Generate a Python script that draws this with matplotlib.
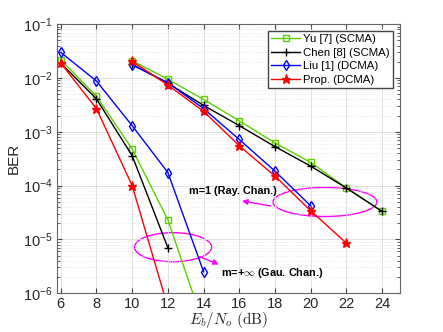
import numpy as np
import matplotlib
matplotlib.use('Agg')
import matplotlib.pyplot as plt
from matplotlib.patches import Ellipse

plt.rcParams['font.family'] = ['Liberation Sans', 'DejaVu Sans']
plt.rcParams['mathtext.fontset'] = 'cm'

# Gaussian channel curves (m=+inf)
snr_gau = [6, 8, 10, 12, 14]
yu_gau = [2.2e-2, 4.6e-3, 4.8e-4, 2.3e-5, 2.6e-7]
chen_gau = [1.9e-2, 4.1e-3, 3.6e-4, 7e-6]
liu_gau = [3.0e-2, 8.8e-3, 1.3e-3, 1.75e-4, 2.5e-6]
prop_gau = [1.9e-2, 2.7e-3, 1.0e-4, 5.5e-7]

# Rayleigh channel curves (m=1)
snr_ray = [10, 12, 14, 16, 18, 20, 22, 24]
yu_ray = [2.1e-2, 9.5e-3, 4.0e-3, 1.6e-3, 6.2e-4, 2.7e-4, 9e-5, 3.3e-5]
chen_ray = [1.8e-2, 8.0e-3, 3.1e-3, 1.3e-3, 5.3e-4, 2.3e-4, 9e-5, 3.3e-5]
liu_ray = [1.75e-2, 8.2e-3, 2.7e-3, 7.2e-4, 1.85e-4, 4.2e-5]
prop_ray = [2.05e-2, 7.4e-3, 2.4e-3, 5.5e-4, 1.5e-4, 3.4e-5, 8.5e-6]

labels = ['Yu [7] (SCMA)', 'Chen [8] (SCMA)', 'Liu [1] (DCMA)', 'Prop. (DCMA)']
colors = ['#5fcf00', 'black', '#0000ff', '#ff0000']
markers = ['s', '+', 'd', '*']
msizes = [5, 6, 5.5, 6.5]
faces = ['none', 'none', 'none', '#ff0000']

fig = plt.figure(figsize=(4.43, 3.32), dpi=100)
ax = fig.add_axes([0.129, 0.117, 0.774, 0.81])

gau = [yu_gau, chen_gau, liu_gau, prop_gau]
ray = [yu_ray, chen_ray, liu_ray, prop_ray]
for i in range(4):
    style = dict(color=colors[i], marker=markers[i], markersize=msizes[i],
                 markerfacecolor=faces[i], markeredgewidth=1, linewidth=1)
    ax.semilogy(snr_gau[:len(gau[i])], gau[i], label=labels[i], **style)
    ax.semilogy(snr_ray[:len(ray[i])], ray[i], **style)

ax.set_xlim(5.8, 25)
ax.set_ylim(1e-6, 1e-1)
ax.set_xticks(range(6, 25, 2))
ax.grid(True, which='major', color='#dcdcdc', linewidth=0.6)
ax.grid(True, which='minor', color='#e4e4e4', linestyle=':', linewidth=0.6)
ax.tick_params(which='both', direction='in', top=True, right=True, labelsize=10.5,
               color='#444444', labelcolor='#262626', pad=3)
for s in ax.spines.values():
    s.set_color('#666666')
ax.set_ylabel('BER', fontsize=11, color='#262626', labelpad=2)
ax.set_xlabel(r'$E_b/N_o\ \mathrm{(dB)}$', fontsize=11, labelpad=-1, color='#262626')

leg = ax.legend(loc='upper right', fontsize=8.2, fancybox=False, edgecolor='#444444',
                framealpha=1, handlelength=2.5, borderpad=0.3, labelspacing=0.3,
                handletextpad=0.3, borderaxespad=0.6)

mag = '#ff00ff'
ax.add_patch(Ellipse((0.781, 0.339), 0.303, 0.108, transform=ax.transAxes,
                     fill=False, edgecolor=mag, linewidth=1))
ax.add_patch(Ellipse((0.338, 0.171), 0.225, 0.108, transform=ax.transAxes,
                     fill=False, edgecolor=mag, linewidth=1))
ax.annotate('', xy=(16.0, 5.3e-5), xytext=(17.9, 4.1e-5),
            arrowprops=dict(arrowstyle='-|>', color=mag, lw=1, mutation_scale=8))
ax.annotate('', xy=(15.0, 3.3e-6), xytext=(13.6, 5.0e-6),
            arrowprops=dict(arrowstyle='-|>', color=mag, lw=1, mutation_scale=8))
ax.text(13.2, 7.9e-5, 'm=1 (Ray. Chan.)', fontsize=7.8, fontweight='bold', va='center')
ax.text(15.0, 2.4e-6, r'm=+$\infty$ (Gau. Chan.)', fontsize=7.8, fontweight='bold',
        va='center')

fig.savefig('out.png', dpi=100)
